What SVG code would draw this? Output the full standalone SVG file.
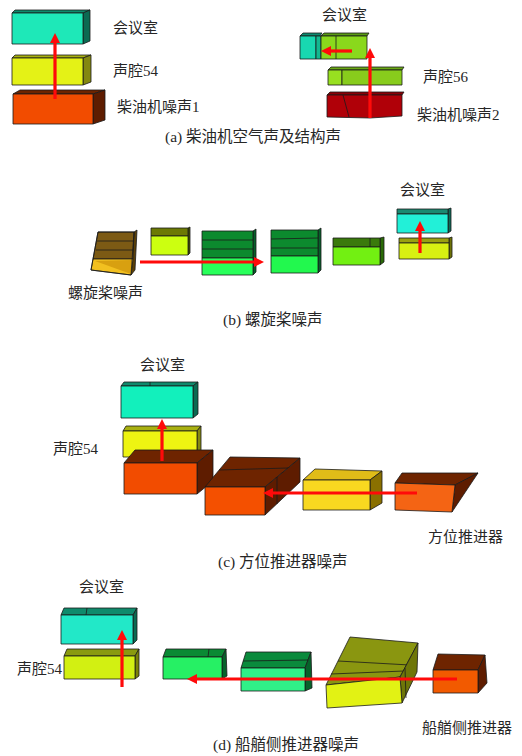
<svg xmlns="http://www.w3.org/2000/svg" width="522" height="756" viewBox="0 0 522 756">
  <style>
    .o { stroke: #1b1b1b; stroke-width: 0.8; stroke-linejoin: round; }
    .seam { stroke: #1b1b1b; stroke-width: 0.8; fill: none; }
    .lbl { font-family: "Liberation Serif", "Noto Sans CJK SC", serif; font-size: 15px; fill: #262626; }
    .cap { font-family: "Liberation Serif", "Noto Sans CJK SC", serif; font-size: 15.5px; fill: #262626; }
    .arr { stroke: #ff0a0a; stroke-width: 3.2; fill: none; marker-end: url(#head); }
    /* face colours */
    .tealF { fill: #1ee8b8; } .tealT { fill: #0f8a6c; } .tealS { fill: #0b6a52; }
    .yelF { fill: #e4f216; } .yelT { fill: #a8b010; } .yelS { fill: #848810; }
    .orF { fill: #f24c00; } .orT { fill: #6e2400; } .orS { fill: #5e1c00; }
  </style>
  <defs>
    <marker id="head" viewBox="0 0 10 10" refX="1" refY="5" markerWidth="10" markerHeight="11" markerUnits="userSpaceOnUse" orient="auto">
      <path d="M0,0 L10,5 L0,10 z" fill="#ff0a0a"/>
    </marker>
  </defs>

  <!-- ===== (a) diesel engine, airborne and structure-borne ===== -->
  <g id="a-room">
    <polygon class="o tealT" points="12,13 15,10 90,10 83,13"/>
    <polygon class="o tealS" points="83,13 90,10 90,41 83,44"/>
    <rect class="o tealF" x="12" y="13" width="71" height="31"/>
  </g>
  <g id="a-cavity54">
    <polygon class="o yelT" points="12,58 15,55 91,55 83,58"/>
    <polygon class="o yelS" points="83,58 91,55 91,82 83,85"/>
    <rect class="o yelF" x="12" y="58" width="71" height="27"/>
  </g>
  <g id="a-engine1">
    <polygon class="o orT" points="13,94 20,90 105,90 93,94"/>
    <polygon class="o orS" points="93,94 105,90 105,120 93,124"/>
    <rect class="o orF" x="13" y="94" width="80" height="30"/>
  </g>
  <text class="lbl" x="113" y="33">会议室</text>
  <text class="lbl" x="113" y="76">声腔54</text>
  <text class="lbl" x="117" y="112">柴油机噪声1</text>

  <g id="a-room2">
    <polygon class="o" fill="#0c8a70" points="300,36 303,33 322,33 320,36"/>
    <rect class="o" fill="#18d8b0" x="300" y="36" width="16" height="23"/>
    <rect class="o" fill="#12b890" x="316" y="36" width="5" height="23"/>
    <polygon class="o" fill="#5a9a14" points="321,36 324,33 369,33 367,36"/>
    <rect class="o" fill="#8ad81c" x="321" y="36" width="46" height="23"/>
    <line class="seam" x1="336" y1="36" x2="336" y2="59"/>
  </g>
  <g id="a-cavity56">
    <polygon class="o" fill="#6aa814" points="328,70 331,67 404,67 402,70"/>
    <rect class="o" fill="#98e020" x="328" y="70" width="14" height="15"/>
    <rect class="o" fill="#88cc1c" x="342" y="70" width="60" height="15"/>
  </g>
  <g id="a-engine2">
    <polygon class="o" fill="#8a0006" points="327,95 330,92 404,92 402,95"/>
    <polygon class="o" fill="#b00008" points="327,95 402,95 402,116 370,118 327,117"/>
    <path class="seam" d="M343,95 L349,117 M370,96 L370,118"/>
  </g>
  <text class="lbl" x="322" y="20">会议室</text>
  <text class="lbl" x="423" y="82">声腔56</text>
  <text class="lbl" x="417" y="120">柴油机噪声2</text>

  <text class="cap" x="165" y="142">(a) 柴油机空气声及结构声</text>

  <!-- ===== (b) propeller ===== -->
  <g id="b-propeller">
    <polygon class="o" fill="#5a4008" points="134,232 137,230 135,270 131,275"/>
    <polygon class="o" fill="#7c5a14" points="98,232 134,232 133,259 93,259"/>
    <polygon class="o" fill="#f2c020" points="93,259 133,259 131,275 91,270"/>
    <polygon fill="#d8a010" points="95,261 132,260 131,274"/>
    <path class="seam" d="M97,241 L134,241 M96,250 L133,250"/>
    <polygon class="o" fill="none" points="98,232 134,232 131,275 91,270"/>
  </g>
  <g id="b-box2">
    <polygon class="o" fill="#4a5a00" points="188,228 190,227 190,253 188,255"/>
    <rect class="o" fill="#6c7a04" x="151" y="228" width="37" height="8"/>
    <rect class="o" fill="#ccff10" x="151" y="236" width="37" height="19"/>
  </g>
  <g id="b-box3">
    <polygon class="o" fill="#06602a" points="253,231 256,229 256,272 253,275"/>
    <rect class="o" fill="#0c8a2e" x="202" y="231" width="51" height="27"/>
    <path class="seam" d="M202,240 L253,240 M202,249 L253,249"/>
    <rect class="o" fill="#28ff5a" x="202" y="258" width="51" height="17"/>
  </g>
  <g id="b-box4">
    <polygon class="o" fill="#06602a" points="318,230 321,228 321,270 318,273"/>
    <rect class="o" fill="#0c8a2e" x="271" y="230" width="47" height="26"/>
    <path class="seam" d="M271,239 L318,238 M271,248 L318,248"/>
    <rect class="o" fill="#22f84e" x="271" y="256" width="47" height="17"/>
  </g>
  <g id="b-box5">
    <polygon class="o" fill="#2a6a08" points="380,238 384,237 384,262 380,265"/>
    <rect class="o" fill="#3a7a0c" x="333" y="238" width="47" height="9"/>
    <line class="seam" x1="370" y1="238" x2="370" y2="247"/>
    <rect class="o" fill="#72f012" x="333" y="247" width="47" height="18"/>
  </g>
  <g id="b-room">
    <polygon class="o" fill="#0c6a58" points="448,209 451,208 451,231 448,233"/>
    <rect class="o" fill="#1a8a72" x="397" y="209" width="51" height="5"/>
    <rect class="o" fill="#22f0d8" x="397" y="214" width="51" height="19"/>
  </g>
  <g id="b-cavity">
    <polygon class="o" fill="#6e7208" points="449,238 452,237 452,257 449,259"/>
    <rect class="o" fill="#9aa010" x="399" y="238" width="50" height="5"/>
    <rect class="o" fill="#d8f012" x="399" y="243" width="50" height="16"/>
  </g>
  <text class="lbl" x="400" y="195">会议室</text>
  <text class="lbl" x="68" y="298">螺旋桨噪声</text>
  <text class="cap" x="223" y="325">(b) 螺旋桨噪声</text>

  <!-- ===== (c) azimuth thruster ===== -->
  <g id="c-room">
    <polygon class="o tealT" points="121,386 124,382 198,382 193,386"/>
    <line class="seam" x1="150" y1="382" x2="150" y2="386"/>
    <polygon class="o tealS" points="193,386 198,382 198,414 193,418"/>
    <rect class="o" fill="#12f0bc" x="121" y="386" width="72" height="32"/>
  </g>
  <g id="c-cavity54">
    <polygon class="o yelT" points="123,431 126,426 201,426 197,431"/>
    <polygon class="o yelS" points="197,431 201,426 201,453 197,457"/>
    <rect class="o" fill="#eef412" x="123" y="431" width="74" height="26"/>
  </g>
  <g id="c-seat">
    <polygon class="o orT" points="124,463 135,450 213,450 197,463"/>
    <polygon class="o orS" points="197,463 213,450 213,481 197,494"/>
    <rect class="o orF" x="124" y="463" width="73" height="31"/>
  </g>
  <g id="c-base">
    <polygon class="o orT" points="205,487 230,457 300,458 265,487"/>
    <path class="seam" d="M219,470 L288,468"/>
    <polygon class="o orS" points="265,487 300,458 300,482 265,515"/>
    <line class="seam" x1="277" y1="477" x2="277" y2="504"/>
    <rect class="o" fill="#f45000" x="205" y="487" width="60" height="28"/>
  </g>
  <g id="c-shaft">
    <polygon class="o" fill="#e0bc18" points="303,480 315,469 382,471 370,480"/>
    <polygon class="o" fill="#8a7000" points="370,480 382,471 382,503 370,510"/>
    <rect class="o" fill="#f8d820" x="303" y="480" width="67" height="30"/>
  </g>
  <g id="c-thruster">
    <polygon class="o orT" points="395,483 402,473 478,473 455,485"/>
    <polygon class="o orS" points="455,485 478,473 452,512"/>
    <polygon class="o" fill="#f46414" points="395,483 455,485 452,512 395,510"/>
  </g>
  <text class="lbl" x="140" y="370">会议室</text>
  <text class="lbl" x="53" y="454">声腔54</text>
  <text class="lbl" x="428" y="542">方位推进器</text>
  <text class="cap" x="218" y="567">(c) 方位推进器噪声</text>

  <!-- ===== (d) bow thruster ===== -->
  <g id="d-room">
    <polygon class="o tealT" points="61,615 64,608 137,608 133,615"/>
    <line class="seam" x1="87" y1="608" x2="86" y2="615"/>
    <polygon class="o tealS" points="133,615 137,608 137,640 133,644"/>
    <rect class="o" fill="#22e8c8" x="61" y="615" width="72" height="29"/>
  </g>
  <g id="d-cavity54">
    <polygon class="o" fill="#8a9a10" points="64,656 67,649 139,649 135,656"/>
    <polygon class="o" fill="#7a8208" points="135,656 139,649 139,676 135,679"/>
    <rect class="o" fill="#d2f012" x="64" y="656" width="71" height="23"/>
  </g>
  <g id="d-box1">
    <polygon class="o" fill="#0a8a34" points="163,657 166,649 226,649 222,657"/>
    <line class="seam" x1="209" y1="649" x2="208" y2="657"/>
    <polygon class="o" fill="#06622a" points="222,657 226,649 227,676 222,679"/>
    <rect class="o" fill="#26f064" x="163" y="657" width="59" height="22"/>
  </g>
  <g id="d-box2">
    <polygon class="o" fill="#0a8a3c" points="241,668 246,652 311,652 305,668"/>
    <line class="seam" x1="243" y1="661" x2="308" y2="660"/>
    <polygon class="o" fill="#06622a" points="305,668 311,652 312,688 305,691"/>
    <rect class="o" fill="#30f088" x="241" y="668" width="64" height="23"/>
  </g>
  <g id="d-box3">
    <polygon class="o" fill="#8a9610" points="326,685 350,637 418,643 400,677"/>
    <path class="seam" d="M338,661 L410,665 M331,674 L404,671"/>
    <polygon class="o" fill="#6e7608" points="400,677 418,643 417,672 402,703"/>
    <line class="seam" x1="405" y1="668" x2="406" y2="698"/>
    <polygon class="o" fill="#e2f214" points="326,685 400,677 402,703 327,708"/>
  </g>
  <g id="d-thruster">
    <polygon class="o orT" points="433,670 438,654 485,655 478,670"/>
    <polygon class="o orS" points="478,670 485,655 487,683 478,693"/>
    <rect class="o" fill="#f25a00" x="433" y="670" width="45" height="23"/>
  </g>
  <text class="lbl" x="79" y="592">会议室</text>
  <text class="lbl" x="17" y="674">声腔54</text>
  <text class="lbl" x="422" y="733">船艏侧推进器</text>
  <text class="cap" x="213" y="750">(d) 船艏侧推进器噪声</text>

  <!-- transmission paths -->
  <g id="connectors">
    <line class="arr" x1="55" y1="99" x2="55" y2="42"/>
    <line class="arr" x1="370" y1="118" x2="370" y2="57"/>
    <line class="arr" x1="352" y1="51" x2="330" y2="51"/>
    <line class="arr" x1="140" y1="262" x2="255" y2="262"/>
    <line class="arr" x1="420" y1="253" x2="420" y2="230"/>
    <line class="arr" x1="162" y1="461" x2="162" y2="428"/>
    <line class="arr" x1="417" y1="493" x2="272" y2="493"/>
    <line class="arr" x1="122" y1="687" x2="122" y2="639"/>
    <line class="arr" x1="457" y1="679" x2="196" y2="679"/>
  </g>
</svg>
